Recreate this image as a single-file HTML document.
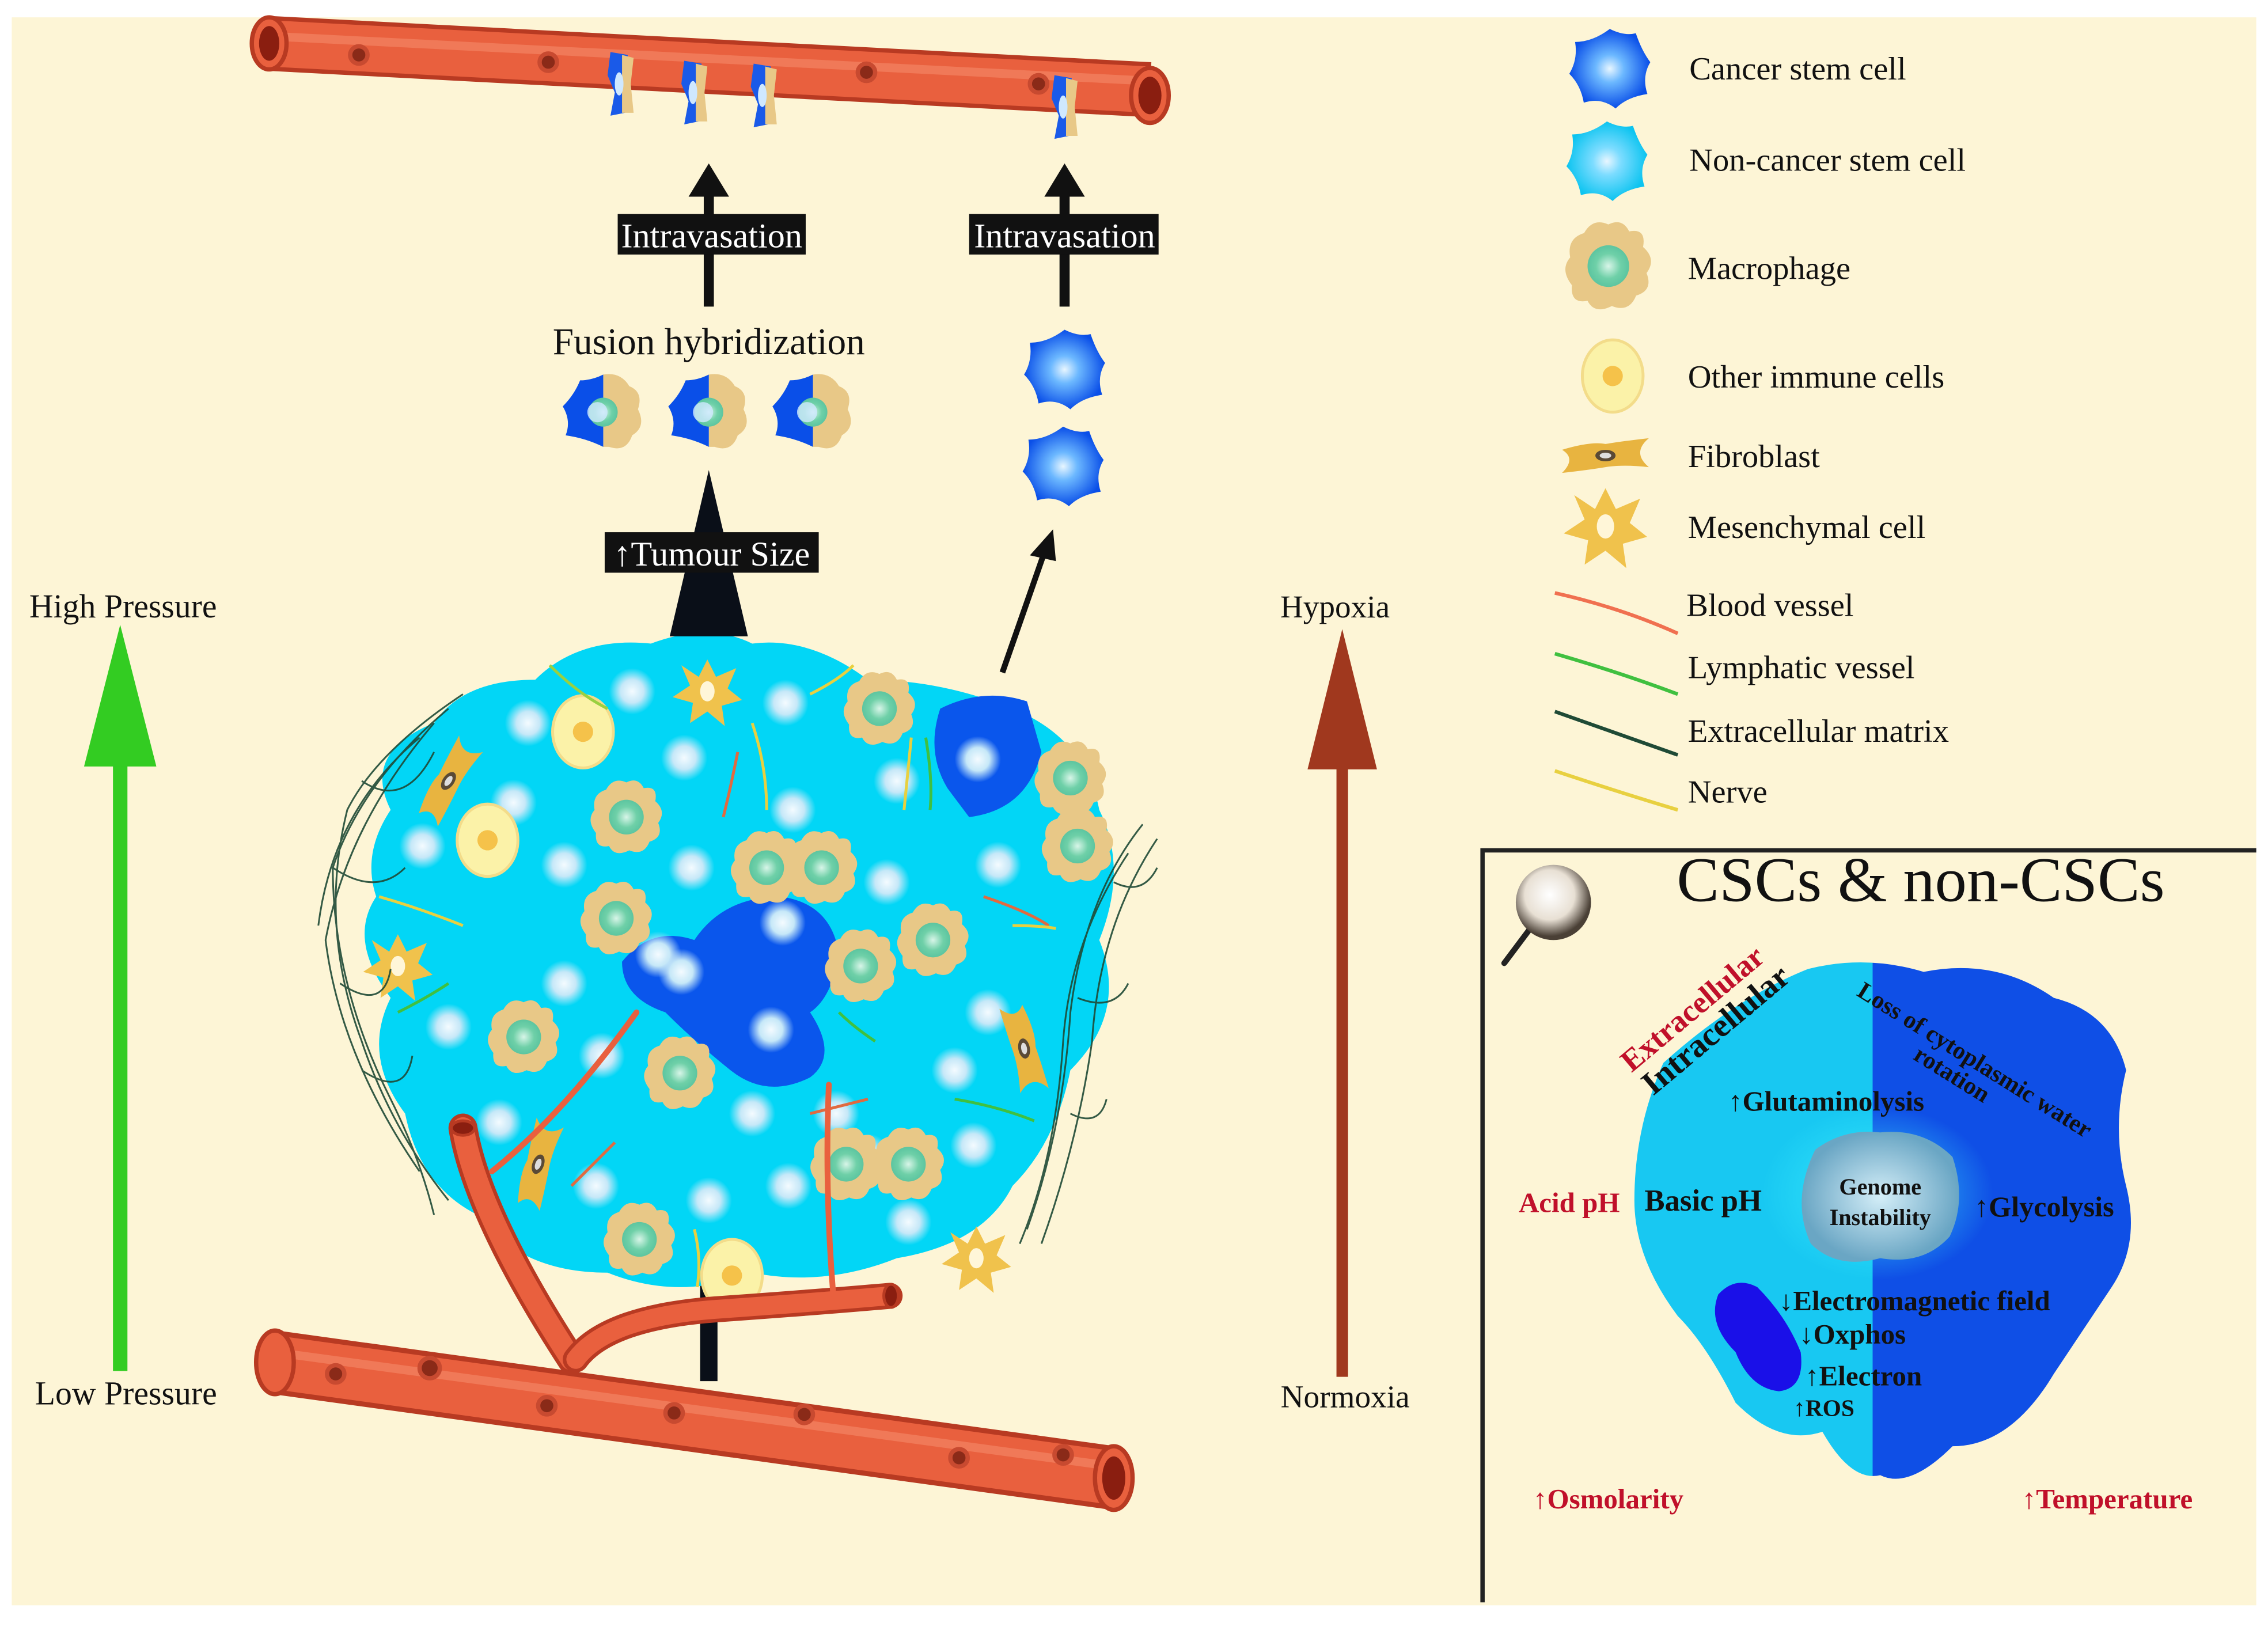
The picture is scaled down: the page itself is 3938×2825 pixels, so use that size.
<!DOCTYPE html>
<html><head><meta charset="utf-8"><style>
html,body{margin:0;padding:0;background:#fff}
svg{display:block}
text{font-family:"Liberation Serif",serif}
</style></head><body>
<svg width="3938" height="2825" viewBox="0 0 1568 1125" xmlns="http://www.w3.org/2000/svg">
<defs>
<radialGradient id="nuc" cx="50%" cy="50%" r="50%"><stop offset="0" stop-color="#f4fbff"/><stop offset="0.5" stop-color="#c6e8f8"/><stop offset="1" stop-color="#c6e8f8" stop-opacity="0"/></radialGradient>
<radialGradient id="mnuc" cx="50%" cy="50%" r="50%"><stop offset="0" stop-color="#d8f5e8"/><stop offset="0.6" stop-color="#6fd0a8"/><stop offset="1" stop-color="#5cc5a0"/></radialGradient>
<radialGradient id="csc" cx="50%" cy="50%" r="50%"><stop offset="0" stop-color="#e8f6ff"/><stop offset="0.35" stop-color="#6cb8ff"/><stop offset="1" stop-color="#0a4fe8"/></radialGradient>
<radialGradient id="ncsc" cx="50%" cy="50%" r="50%"><stop offset="0" stop-color="#e8f6ff"/><stop offset="0.35" stop-color="#7cdcff"/><stop offset="1" stop-color="#0cc4f0"/></radialGradient>
<radialGradient id="gen" cx="50%" cy="50%" r="50%"><stop offset="0" stop-color="#d4eef8"/><stop offset="1" stop-color="#6aa6c4"/></radialGradient>
<radialGradient id="glow" cx="50%" cy="50%" r="50%"><stop offset="0" stop-color="#40f0ff"/><stop offset="1" stop-color="#40f0ff" stop-opacity="0"/></radialGradient>
<radialGradient id="lens" cx="45%" cy="40%" r="55%"><stop offset="0" stop-color="#ffffff"/><stop offset="0.6" stop-color="#e8e0d4"/><stop offset="1" stop-color="#4a4036"/></radialGradient>
<linearGradient id="halfc" x1="0" x2="1"><stop offset="0.48" stop-color="#18c8f2"/><stop offset="0.48" stop-color="#0f4fe6"/></linearGradient>
<g id="mac"><path d="M0,-24 Q8,-28 12,-20 Q22,-22 20,-11 Q28,-4 22,4 Q26,14 16,17 Q12,27 2,23 Q-8,28 -12,20 Q-22,22 -21,11 Q-28,2 -22,-5 Q-24,-16 -14,-19 Q-9,-28 0,-24Z" fill="#e8c887"/><circle r="12" fill="url(#mnuc)"/></g>
<g id="imm"><ellipse rx="21" ry="25" fill="#fbf2a8" stroke="#f3dc8a" stroke-width="2"/><circle r="7" fill="#f5c24a"/></g>
<g id="blob"><circle r="16" fill="url(#nuc)"/></g>
<g id="mes"><path d="M0,-22 L6,-10 L20,-16 L14,-2 L24,6 L10,10 L12,24 L0,14 L-12,22 L-10,8 L-24,4 L-12,-4 L-18,-18 L-6,-10Z" fill="#f0c24c"/><ellipse rx="5" ry="7" fill="#fff6d8"/></g>
<g id="fib"><path d="M-30,-4 Q-10,-10 0,-8 Q12,-10 30,-12 Q18,-2 30,8 Q12,6 0,8 Q-12,10 -30,12 Q-20,2 -30,-4Z" fill="#e8b440"/><ellipse rx="7" ry="4" fill="#5a4a36"/><ellipse rx="4" ry="2" fill="#ddd"/></g>
<g id="cscc"><path d="M0,-27 Q10,-22 18,-24 Q22,-12 28,-4 Q22,6 26,18 Q12,20 4,28 Q-6,20 -18,24 Q-20,12 -28,4 Q-22,-6 -24,-18 Q-12,-18 0,-27Z" fill="url(#csc)"/></g>
<g id="ncscc"><path d="M0,-27 Q10,-22 18,-24 Q22,-12 28,-4 Q22,6 26,18 Q12,20 4,28 Q-6,20 -18,24 Q-20,12 -28,4 Q-22,-6 -24,-18 Q-12,-18 0,-27Z" fill="url(#ncsc)"/></g>
<g id="hyb"><path d="M0,-26 Q12,-28 18,-18 Q28,-14 24,-2 Q30,10 20,16 Q16,28 4,24 L0,24Z" fill="#e8c887"/><path d="M0,-26 Q-8,-22 -16,-22 Q-20,-12 -28,-4 Q-22,6 -26,16 Q-12,18 0,24Z" fill="#0a4fe8"/><circle r="10" fill="url(#mnuc)"/><circle cx="-4" r="7" fill="#cfe8ff" opacity="0.8"/></g>
<g id="vcell"><path d="M-6,-22 L6,-20 L4,-6 L8,6 L4,20 L-6,22 L-3,6 L-8,-6Z" fill="#1a5ae8"/><path d="M2,-20 L10,-18 L8,0 L10,20 L2,20 Z" fill="#e8c887"/><ellipse cx="0" cy="0" rx="3" ry="8" fill="#cfe8ff"/></g>
</defs>

<rect width="1568" height="1125" fill="#fff"/>
<rect x="8" y="12" width="1552" height="1098" fill="#fdf5d6"/>

<!-- top vessel -->
<g>
<path d="M186,30 L795,62" stroke="#b83a22" stroke-width="38"/>
<path d="M186,30 L795,62" stroke="#e9603e" stroke-width="32"/>
<path d="M186,25 L795,56" stroke="#f58a6a" stroke-width="6" opacity="0.6"/>
<ellipse cx="186" cy="30" rx="12" ry="18" fill="#e9603e" stroke="#b83a22" stroke-width="3"/>
<ellipse cx="186" cy="30" rx="7" ry="12" fill="#8a1e10"/>
<ellipse cx="795" cy="66" rx="13" ry="19" fill="#e9603e" stroke="#b83a22" stroke-width="3"/>
<ellipse cx="795" cy="66" rx="8" ry="13" fill="#8a1e10"/>
<g fill="#8a2a18" stroke="#c84a30" stroke-width="3"><circle cx="248" cy="38" r="6"/><circle cx="379" cy="43" r="6"/><circle cx="599" cy="50" r="6"/><circle cx="718" cy="58" r="6"/></g>
<use href="#vcell" x="428" y="58"/><use href="#vcell" x="479" y="64"/><use href="#vcell" x="527" y="66"/><use href="#vcell" x="735" y="74"/>
</g>

<!-- centre arrow stem (behind tumour) -->
<path d="M490,955 L490,430" stroke="#0a0f18" stroke-width="12"/>

<!-- tumour -->
<g>
<path d="M270,560 Q250,520 300,500 Q320,470 370,470 Q400,440 450,445 Q490,430 520,445 Q560,440 600,470 Q650,470 700,490 Q750,510 760,560 Q780,600 760,650 Q780,700 740,740 Q730,790 700,820 Q680,860 620,870 Q570,890 520,880 Q470,900 420,880 Q360,880 330,840 Q290,820 280,770 Q250,730 270,690 Q240,650 260,620 Q250,590 270,560Z" fill="#02d6f6"/>
<path d="M430,665 Q450,640 480,650 Q500,620 540,620 Q575,625 580,660 Q575,690 560,700 Q580,730 560,745 Q530,760 505,740 Q480,720 460,700 Q430,690 430,665Z" fill="#0a56ec"/>
<path d="M650,490 Q680,475 710,485 L720,520 Q710,560 670,565 L655,545 Q640,520 650,490Z" fill="#0a56ec"/>
<g>
<use href="#blob" x="365" y="500"/><use href="#blob" x="437" y="478"/><use href="#blob" x="543" y="486"/><use href="#blob" x="355" y="555"/><use href="#blob" x="473" y="524"/><use href="#blob" x="548" y="560"/><use href="#blob" x="292" y="585"/><use href="#blob" x="390" y="598"/><use href="#blob" x="478" y="600"/><use href="#blob" x="613" y="610"/><use href="#blob" x="690" y="598"/><use href="#blob" x="310" y="710"/><use href="#blob" x="390" y="680"/><use href="#blob" x="455" y="660"/><use href="#blob" x="416" y="730"/><use href="#blob" x="345" y="776"/><use href="#blob" x="520" y="770"/><use href="#blob" x="660" y="740"/><use href="#blob" x="683" y="700"/><use href="#blob" x="412" y="820"/><use href="#blob" x="490" y="830"/><use href="#blob" x="600" y="800"/><use href="#blob" x="545" y="820"/><use href="#blob" x="628" y="845"/><use href="#blob" x="673" y="792"/><use href="#blob" x="578" y="770"/><use href="#blob" x="620" y="540"/>
<use href="#blob" x="471" y="672"/><use href="#blob" x="541" y="638"/><use href="#blob" x="533" y="712"/><use href="#blob" x="676" y="525"/>
</g>
<use href="#mac" x="608" y="490"/><use href="#mac" x="433" y="565"/><use href="#mac" x="530" y="600"/><use href="#mac" x="568" y="600"/><use href="#mac" x="426" y="635"/><use href="#mac" x="595" y="668"/><use href="#mac" x="645" y="650"/><use href="#mac" x="362" y="717"/><use href="#mac" x="470" y="742"/><use href="#mac" x="740" y="538"/><use href="#mac" x="745" y="585"/><use href="#mac" x="585" y="805"/><use href="#mac" x="628" y="805"/><use href="#mac" x="442" y="857"/>
<use href="#imm" x="403" y="506"/><use href="#imm" x="337" y="581"/><use href="#imm" x="506" y="882"/>
<use href="#mes" x="489" y="478"/><use href="#mes" x="275" y="668"/><use href="#mes" x="675" y="870"/>
<use href="#fib" x="310" y="540" transform="rotate(-55 310 540)"/><use href="#fib" x="372" y="805" transform="rotate(-70 372 805)"/><use href="#fib" x="708" y="725" transform="rotate(80 708 725)"/>
<g stroke="#1f4a36" stroke-width="1.2" fill="none" opacity="0.9">
<path d="M320,480 Q260,520 240,560 Q220,640 250,720 Q270,780 310,830"/><path d="M310,490 Q250,540 230,600 Q230,680 270,760 Q290,800 300,840"/><path d="M300,500 Q240,570 225,650 Q235,730 290,810"/><path d="M290,510 Q230,560 220,640"/><path d="M250,540 Q280,560 300,520"/><path d="M230,600 Q260,620 280,600"/><path d="M235,680 Q265,700 270,670"/><path d="M250,740 Q280,760 285,730"/>
<path d="M790,570 Q750,620 740,700 Q735,780 710,850"/><path d="M800,580 Q760,640 755,720 Q745,790 720,860"/><path d="M780,590 Q740,650 735,720 Q730,800 705,860"/><path d="M770,610 Q790,620 800,600"/><path d="M745,690 Q770,700 780,680"/><path d="M740,770 Q760,780 765,760"/></g>
<g fill="none" stroke-width="2"><path d="M380,460 Q400,480 420,490" stroke="#9ad040"/><path d="M520,500 Q530,530 530,560" stroke="#e8d040"/><path d="M510,520 Q505,545 500,565" stroke="#e06a40"/><path d="M560,480 Q580,470 590,460" stroke="#e8d040"/><path d="M640,510 Q645,540 643,560" stroke="#40c040"/><path d="M630,510 Q628,530 625,560" stroke="#e8d040"/><path d="M262,620 Q290,628 320,640" stroke="#e8d040"/><path d="M680,620 Q710,630 725,640" stroke="#e06a40"/><path d="M700,640 Q720,640 730,642" stroke="#e8d040"/><path d="M275,700 Q295,690 310,680" stroke="#40c040"/><path d="M580,700 Q590,710 605,720" stroke="#40c040"/><path d="M660,760 Q690,765 715,775" stroke="#40c040"/><path d="M560,770 Q580,765 600,760" stroke="#e06a40"/><path d="M480,850 Q485,870 482,890" stroke="#e8d040"/><path d="M395,820 Q415,800 425,790" stroke="#e06a40"/></g>
</g>

<path d="M490,325 L463,440 L517,440Z" fill="#0a0f18"/>
<rect x="418" y="368" width="148" height="28" fill="#111"/>
<text x="492" y="391" font-size="24" fill="#fff" text-anchor="middle">↑Tumour Size</text>

<!-- blood branches and bottom vessel -->
<g fill="none" stroke-linecap="round">
<path d="M320,780 Q330,840 395,940" stroke="#b83a22" stroke-width="20"/>
<path d="M320,780 Q330,840 395,940" stroke="#e9603e" stroke-width="15"/>
<path d="M398,940 Q420,910 500,905 Q570,900 615,896" stroke="#b83a22" stroke-width="18"/>
<path d="M398,940 Q420,910 500,905 Q570,900 615,896" stroke="#e9603e" stroke-width="13"/>
<path d="M340,810 Q390,770 440,700" stroke="#e9603e" stroke-width="4"/>
<path d="M576,895 Q570,820 573,750" stroke="#e9603e" stroke-width="4"/>
</g>
<ellipse cx="320" cy="780" rx="8" ry="5" fill="#8a1e10" stroke="#b83a22" stroke-width="2"/>
<ellipse cx="616" cy="896" rx="5" ry="8" fill="#8a1e10" stroke="#b83a22" stroke-width="2"/>
<g>
<path d="M190,942 L770,1022" stroke="#b83a22" stroke-width="44"/>
<path d="M190,942 L770,1022" stroke="#e9603e" stroke-width="37"/>
<path d="M190,935 L770,1014" stroke="#f58a6a" stroke-width="6" opacity="0.6"/>
<ellipse cx="190" cy="942" rx="13" ry="22" fill="#e9603e" stroke="#b83a22" stroke-width="3"/>
<ellipse cx="770" cy="1022" rx="13" ry="22" fill="#e9603e" stroke="#b83a22" stroke-width="3"/>
<ellipse cx="770" cy="1022" rx="8" ry="15" fill="#8a1e10"/>
<g fill="#8a2a18" stroke="#c84a30" stroke-width="3"><circle cx="232" cy="950" r="6"/><circle cx="297" cy="946" r="7"/><circle cx="378" cy="972" r="6"/><circle cx="466" cy="977" r="6"/><circle cx="556" cy="978" r="6"/><circle cx="663" cy="1008" r="6"/><circle cx="735" cy="1006" r="6"/></g>
</g>

<!-- hybrids -->
<text x="490" y="245" font-size="26" text-anchor="middle" fill="#111">Fusion hybridization</text>
<use href="#hyb" x="417" y="285"/><use href="#hyb" x="490" y="285"/><use href="#hyb" x="562" y="285"/>
<path d="M490,212 L490,135" stroke="#111" stroke-width="7"/><path d="M490,113 L476,136 L504,136Z" fill="#111"/>
<rect x="427" y="148" width="130" height="28" fill="#111"/>
<text x="492" y="171" font-size="24" fill="#fff" text-anchor="middle">Intravasation</text>
<path d="M736,212 L736,135" stroke="#111" stroke-width="7"/><path d="M736,113 L722,136 L750,136Z" fill="#111"/>
<rect x="670" y="148" width="131" height="28" fill="#111"/>
<text x="736" y="171" font-size="24" fill="#fff" text-anchor="middle">Intravasation</text>
<use href="#cscc" x="736" y="255"/><use href="#cscc" x="735" y="322"/>
<path d="M693,465 L722,382" stroke="#111" stroke-width="4"/><path d="M728,366 L712,384 L730,388Z" fill="#111"/>

<!-- side arrows -->
<path d="M83,948 L83,520" stroke="#33cc22" stroke-width="10"/><path d="M83,432 L58,530 L108,530Z" fill="#33cc22"/>
<text x="85" y="427" font-size="23" text-anchor="middle" fill="#111">High Pressure</text>
<text x="87" y="971" font-size="23" text-anchor="middle" fill="#111">Low Pressure</text>
<path d="M928,952 L928,525" stroke="#a0381e" stroke-width="8"/><path d="M928,435 L904,532 L952,532Z" fill="#a0381e"/>
<text x="923" y="427" font-size="22" text-anchor="middle" fill="#111">Hypoxia</text>
<text x="930" y="973" font-size="22" text-anchor="middle" fill="#111">Normoxia</text>

<!-- legend -->
<use href="#cscc" x="1113" y="47"/><text x="1168" y="55" font-size="22.5" fill="#111">Cancer stem cell</text>
<use href="#ncscc" x="1111" y="111"/><text x="1168" y="118" font-size="22.5" fill="#111">Non-cancer stem cell</text>
<use href="#mac" transform="translate(1112 184) scale(1.2)"/><text x="1167" y="193" font-size="22.5" fill="#111">Macrophage</text>
<use href="#imm" x="1115" y="260"/><text x="1167" y="268" font-size="22.5" fill="#111">Other immune cells</text>
<use href="#fib" x="1110" y="315"/><text x="1167" y="323" font-size="22.5" fill="#111">Fibroblast</text>
<use href="#mes" transform="translate(1110 364) scale(1.2)"/><text x="1167" y="372" font-size="22.5" fill="#111">Mesenchymal cell</text>
<path d="M1075,410 Q1120,420 1160,438" stroke="#f07050" stroke-width="2.5" fill="none"/><text x="1166" y="426" font-size="22.5" fill="#111">Blood vessel</text>
<path d="M1075,452 Q1120,465 1160,480" stroke="#40c040" stroke-width="2.5" fill="none"/><text x="1167" y="469" font-size="22.5" fill="#111">Lymphatic vessel</text>
<path d="M1075,492 Q1120,508 1160,522" stroke="#1f4a36" stroke-width="2.5" fill="none"/><text x="1167" y="513" font-size="22.5" fill="#111">Extracellular matrix</text>
<path d="M1075,533 Q1120,548 1160,560" stroke="#e8d040" stroke-width="2.5" fill="none"/><text x="1167" y="555" font-size="22.5" fill="#111">Nerve</text>

<!-- inset -->
<path d="M1025,1108 L1025,588 L1560,588" stroke="#222" stroke-width="3" fill="none"/>
<text x="1328" y="623" font-size="44" text-anchor="middle" fill="#111">CSCs &amp; non-CSCs</text>
<path d="M1058,642 L1040,666" stroke="#222" stroke-width="4" stroke-linecap="round"/>
<circle cx="1074" cy="624" r="26" fill="url(#lens)"/>
<path d="M1150,735 Q1200,690 1250,670 Q1290,660 1330,672 Q1380,662 1420,690 Q1460,700 1470,740 Q1460,780 1470,820 Q1480,860 1460,890 Q1440,920 1420,950 Q1390,1000 1350,1000 Q1320,1030 1300,1020 Q1280,1025 1260,990 Q1230,1000 1200,970 Q1180,930 1160,910 Q1130,870 1130,830 Q1130,780 1150,735Z" fill="url(#halfc)"/>
<ellipse cx="1298" cy="825" rx="80" ry="60" fill="url(#glow)" opacity="0.8"/>
<path d="M1255,795 Q1275,780 1300,783 Q1330,780 1350,800 Q1360,830 1348,855 Q1330,875 1300,870 Q1270,878 1252,860 Q1238,830 1255,795Z" fill="url(#gen)"/>
<path d="M1188,895 Q1200,882 1215,890 Q1235,910 1245,935 Q1248,960 1230,962 Q1210,960 1200,935 Q1180,915 1188,895Z" fill="#1a10e8"/>
<text x="1300" y="826" font-size="16" font-weight="bold" text-anchor="middle" fill="#111">Genome</text>
<text x="1300" y="847" font-size="16" font-weight="bold" text-anchor="middle" fill="#111">Instability</text>
<text x="1195" y="768" font-size="19.5" font-weight="bold" fill="#111">↑Glutaminolysis</text>
<text x="1137" y="837" font-size="21" font-weight="bold" fill="#111">Basic pH</text>
<text x="1050" y="838" font-size="19.5" font-weight="bold" fill="#c0102a">Acid pH</text>
<text x="1365" y="841" font-size="20" font-weight="bold" fill="#111">↑Glycolysis</text>
<text x="1230" y="906" font-size="19.5" font-weight="bold" fill="#111">↓Electromagnetic field</text>
<text x="1244" y="929" font-size="19.5" font-weight="bold" fill="#111">↓Oxphos</text>
<text x="1248" y="958" font-size="19.5" font-weight="bold" fill="#111">↑Electron</text>
<text x="1240" y="979" font-size="16.5" font-weight="bold" fill="#111">↑ROS</text>
<text x="1060" y="1043" font-size="19.5" font-weight="bold" fill="#c0102a">↑Osmolarity</text>
<text x="1398" y="1043" font-size="19.5" font-weight="bold" fill="#c0102a">↑Temperature</text>
<text x="1128" y="742" font-size="21.5" font-weight="bold" fill="#c0102a" transform="rotate(-40 1128 742)">Extracellular</text>
<text x="1143" y="758" font-size="23" font-weight="bold" fill="#111" transform="rotate(-40 1143 758)">Intracellular</text>
<text x="1283" y="688" font-size="17" font-weight="bold" fill="#111" transform="rotate(32 1283 688)">Loss of cytoplasmic water</text>
<text x="1322" y="732" font-size="17" font-weight="bold" fill="#111" transform="rotate(32 1322 732)">rotation</text>
</svg>
</body></html>
